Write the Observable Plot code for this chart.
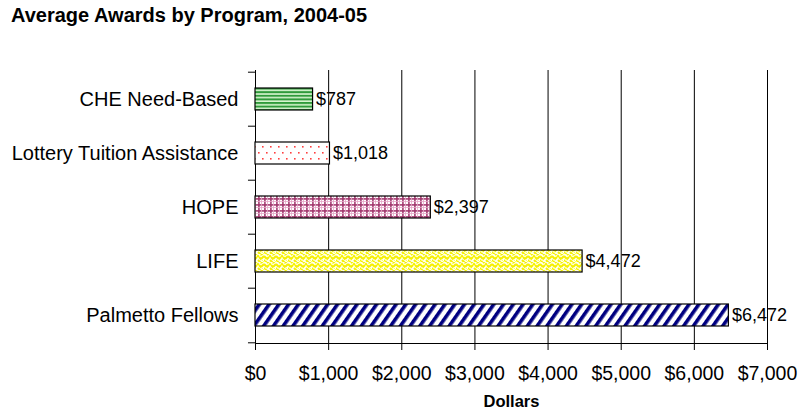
<!DOCTYPE html>
<html>
<head>
<meta charset="utf-8">
<script src="https://cdn.jsdelivr.net/npm/d3@7"></script>
<script src="https://cdn.jsdelivr.net/npm/@observablehq/plot@0.6"></script>
<style>
  html, body { margin: 0; padding: 0; background: #fff; }
  body { width: 799px; height: 412px; overflow: hidden; font-family: "Liberation Sans", Arial, sans-serif; }
  #title { height: 30px; box-sizing: border-box; padding: 5px 0 0 11px; font-weight: bold; font-size: 20px; line-height: 20px; color: #000; white-space: nowrap; }
  svg { display: block; }
</style>
</head>
<body>
<div id="title">Average Awards by Program, 2004-05</div>
<div id="chart"></div>
<script>
const categories = ["CHE Need-Based", "Lottery Tuition Assistance", "HOPE", "LIFE", "Palmetto Fellows"];
const values = [787, 1018, 2397, 4472, 6472];
const labels = ["$787", "$1,018", "$2,397", "$4,472", "$6,472"];
const patternIds = ["pChe", "pLottery", "pHope", "pLife", "pPalmetto"];
const xTicks = [0, 1000, 2000, 3000, 4000, 5000, 6000, 7000];

const data = categories.map((c, i) => ({category: c, value: values[i], label: labels[i], fill: `url(#${patternIds[i]})`}));

const plot = Plot.plot({
  width: 799,
  height: 382,
  marginLeft: 255,
  marginRight: 32,
  marginTop: 40,
  marginBottom: 69,
  style: {fontFamily: "'Liberation Sans', Arial, sans-serif", fontSize: "19.5px", color: "#000", background: "#fff"},
  x: {domain: [0, 7000], ticks: xTicks, tickFormat: d => "$" + d3.format(",")(d)},
  y: {domain: categories, padding: 0.6, paddingOuter: 0.3},
  color: {type: "identity"},
  marks: [
    Plot.gridX(xTicks, {stroke: "#000", strokeOpacity: 1}),
    Plot.frame({anchor: "left", stroke: "#000"}),
    Plot.frame({anchor: "bottom", stroke: "#000"}),
    Plot.ruleY(categories, {y: d => d, x1: -96, x2: 0, dy: -27.3, stroke: "#000"}),
    Plot.ruleY(categories.slice(-1), {y: d => d, x1: -96, x2: 0, dy: 27.3, stroke: "#000"}),
    Plot.axisX({ticks: xTicks, tickSize: 7, tickPadding: 16, label: null, tickFormat: d => "$" + d3.format(",")(d), fontSize: 19.5}),
    Plot.axisY({tickSize: 0, tickPadding: 17, label: null, fontSize: 20}),
    Plot.barX(data, {y: "category", x: "value", fill: "fill", stroke: "#000", strokeWidth: 1.2}),
    Plot.text(data, {y: "category", x: "value", text: "label", textAnchor: "start", dx: 3, fontSize: 18}),
    Plot.text(["Dollars"], {frameAnchor: "bottom", dy: 63, fontWeight: "bold", fontSize: 16.5, text: d => d})
  ]
});

const defs = document.createElementNS("http://www.w3.org/2000/svg", "defs");
defs.innerHTML = `
<pattern id="pChe" patternUnits="userSpaceOnUse" width="6" height="3.6">
  <rect width="6" height="3.6" fill="#d8f5d0"/>
  <rect y="0" width="6" height="2" fill="#2f9a3a"/>
</pattern>
<pattern id="pLottery" patternUnits="userSpaceOnUse" width="8" height="12">
  <rect width="8" height="12" fill="#fff"/>
  <rect x="2" y="2" width="1.6" height="1.6" fill="#ff4040"/>
  <rect x="6" y="8" width="1.6" height="1.6" fill="#ff4040"/>
</pattern>
<pattern id="pHope" patternUnits="userSpaceOnUse" width="6" height="6">
  <rect width="6" height="6" fill="#fff"/>
  <rect x="0" y="0" width="6" height="1.8" fill="#a0336a" opacity="0.85"/>
  <rect x="0" y="0" width="1.8" height="6" fill="#a0336a" opacity="0.85"/>
  <rect x="3.2" y="0" width="0.8" height="6" fill="#e6a8c8"/>
  <rect x="0" y="3.2" width="6" height="0.8" fill="#e6a8c8"/>
</pattern>
<pattern id="pLife" patternUnits="userSpaceOnUse" width="12" height="8">
  <rect width="12" height="8" fill="#fffff0"/>
  <path d="M0,2 L3,5 L6,2 L9,5 L12,2" fill="none" stroke="#f5f000" stroke-width="2"/>
  <path d="M0,6 L3,9 M3,1 L6,-2 M6,6 L9,9 M9,1 L12,-2" fill="none" stroke="#f5f000" stroke-width="2"/>
  <path d="M-3,5 L0,8 L3,5 M3,1 L6,4 L9,1 M9,5 L12,8" fill="none" stroke="#ffff66" stroke-width="1"/>
</pattern>
<pattern id="pPalmetto" patternUnits="userSpaceOnUse" width="8" height="10" patternTransform="rotate(35)">
  <rect width="8" height="10" fill="#fff"/>
  <rect x="0" y="0" width="3.6" height="10" fill="#000080"/>
</pattern>`;
plot.insertBefore(defs, plot.firstChild);
document.getElementById("chart").appendChild(plot);
</script>
</body>
</html>
